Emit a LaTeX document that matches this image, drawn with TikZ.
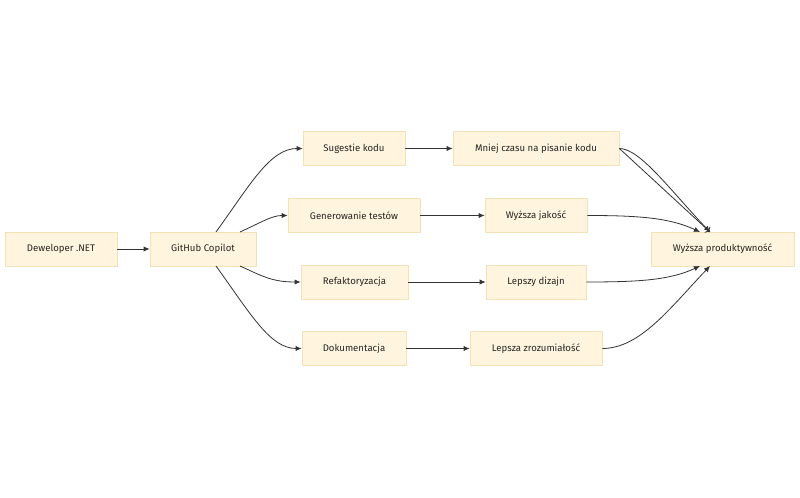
\documentclass[tikz,border=0pt]{standalone}
\usepackage{fontspec}
\setmainfont{Fira Sans}
\usetikzlibrary{arrows.meta}
\definecolor{boxfill}{HTML}{FFF4DD}
\definecolor{boxline}{HTML}{F3E2B8}
\definecolor{edge}{HTML}{333333}
\begin{document}
\begin{tikzpicture}[x=0.75pt,y=-0.75pt,
  box/.style={draw=boxline,fill=boxfill,line width=0.6pt,minimum height=34*0.75pt,inner sep=0pt,font=\fontsize{7.2}{9}\selectfont,text=black!85},
  conn/.style={draw=edge,line width=0.6pt,-{Latex[length=4.5pt,width=4pt]}}]
\useasboundingbox (0,0) rectangle (800,498);
\node[box,minimum width=112*0.75pt] (dev) at (61,249) {Deweloper .NET};
\node[box,minimum width=106*0.75pt] (cop) at (203,249) {GitHub Copilot};
\node[box,minimum width=102*0.75pt] (sug) at (354,148.5) {Sugestie kodu};
\node[box,minimum width=132*0.75pt] (gen) at (354,215.5) {Generowanie testów};
\node[box,minimum width=107*0.75pt] (ref) at (354.5,282) {Refaktoryzacja};
\node[box,minimum width=104*0.75pt] (dok) at (354,348.5) {Dokumentacja};
\node[box,minimum width=166*0.75pt] (mni) at (536,148.5) {Mniej czasu na pisanie kodu};
\node[box,minimum width=102*0.75pt] (jak) at (536,215.5) {Wyższa jakość};
\node[box,minimum width=100*0.75pt] (diz) at (536,282) {Lepszy dizajn};
\node[box,minimum width=132*0.75pt] (zro) at (536,348.5) {Lepsza zrozumiałość};
\node[box,minimum width=143*0.75pt] (pro) at (722.5,249) {Wyższa produktywność};
\coordinate (c1) at (216,232);
\coordinate (c2) at (240,232);
\coordinate (c3) at (240,266);
\coordinate (c4) at (216,266);
\coordinate (p1) at (710,232);
\coordinate (p2) at (700,232);
\coordinate (p3) at (700,266);
\coordinate (p4) at (710,266);
\draw[conn] (dev) -- (cop);
\draw[conn] (c1) .. controls (250,185) and (270,148.5) .. (sug.west);
\draw[conn] (c2) .. controls (262,222) and (272,215.5) .. (gen.west);
\draw[conn] (c3) .. controls (262,276) and (272,282) .. (ref.west);
\draw[conn] (c4) .. controls (250,313) and (270,348.5) .. (dok.west);
\draw[conn] (sug) -- (mni);
\draw[conn] (gen) -- (jak);
\draw[conn] (ref) -- (diz);
\draw[conn] (dok) -- (zro);
\draw (p1) edge[conn,<-] (mni.east);
\draw[conn] (mni.east) .. controls (640,148.5) and (670,190) .. (p1);
\draw[conn] (jak.east) .. controls (640,215.5) and (670,218) .. (p2);
\draw[conn] (diz.east) .. controls (640,282) and (670,280) .. (p3);
\draw[conn] (zro.east) .. controls (640,348.5) and (670,308) .. (p4);
\end{tikzpicture}
\end{document}
